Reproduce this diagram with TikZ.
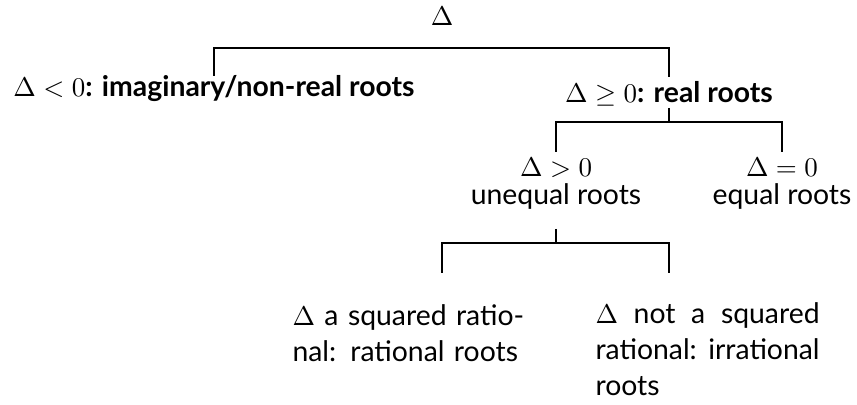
\documentclass[tikz,border=0pt]{standalone}
\usepackage{fontspec}
\setmainfont{Lato}[Scale=1.05]
\begin{document}
\begin{tikzpicture}[x=0.3704pt,y=-0.3704pt,
  lbl/.style={inner sep=0pt},
  branch/.style={line width=0.75pt},
  leaf/.style={lbl,anchor=base west,text width=83pt,font=\fontsize{10}{13.2}\selectfont}]
\useasboundingbox (0,0) rectangle (857,405);
% Discriminant
\node[lbl,anchor=base] (root) at (442,26) {$\Delta$};
% First split
\node[lbl,anchor=base] (neg) at (214,97) {$\Delta<0$\textbf{: imaginary/non-real roots}};
\node[lbl,anchor=base] (pos) at (669,103) {$\Delta\geq 0$\textbf{: real roots}};
% Real roots
\node[lbl,anchor=base,align=center] (gt) at (556,205) {$\Delta>0$\\[-1.6pt]unequal roots};
\node[lbl,anchor=base,align=center] (eq) at (782,205) {$\Delta=0$\\[-1.6pt]equal roots};
% Unequal roots
\node[leaf,text width=100pt,align=left] (sq) at (292,326) {$\Delta$ a squared ratio-\\nal: rational roots};
\node[leaf,align=justify] (nsq) at (595,324) {$\Delta$ not a squared\linebreak rational: irrational\linebreak roots};
% Branch points
\coordinate (b1) at (442,48);
\coordinate (b2) at (669,122);
\coordinate (b3) at (556,243);
\coordinate (sqtop) at (442,273);
\coordinate (nsqtop) at (669,273);
% Connectors
\draw[branch] (neg.north |- 0,76) |- (b1) -| (pos.north |- 0,77);
\draw[branch] (pos.south |- 0,108) -- (b2);
\draw[branch] (gt.north |- 0,152) |- (b2) -| (eq.north |- 0,152);
\draw[branch] (gt.south |- 0,229) -- (b3);
\draw[branch] (sqtop) |- (b3) -| (nsqtop);
\end{tikzpicture}
\end{document}
